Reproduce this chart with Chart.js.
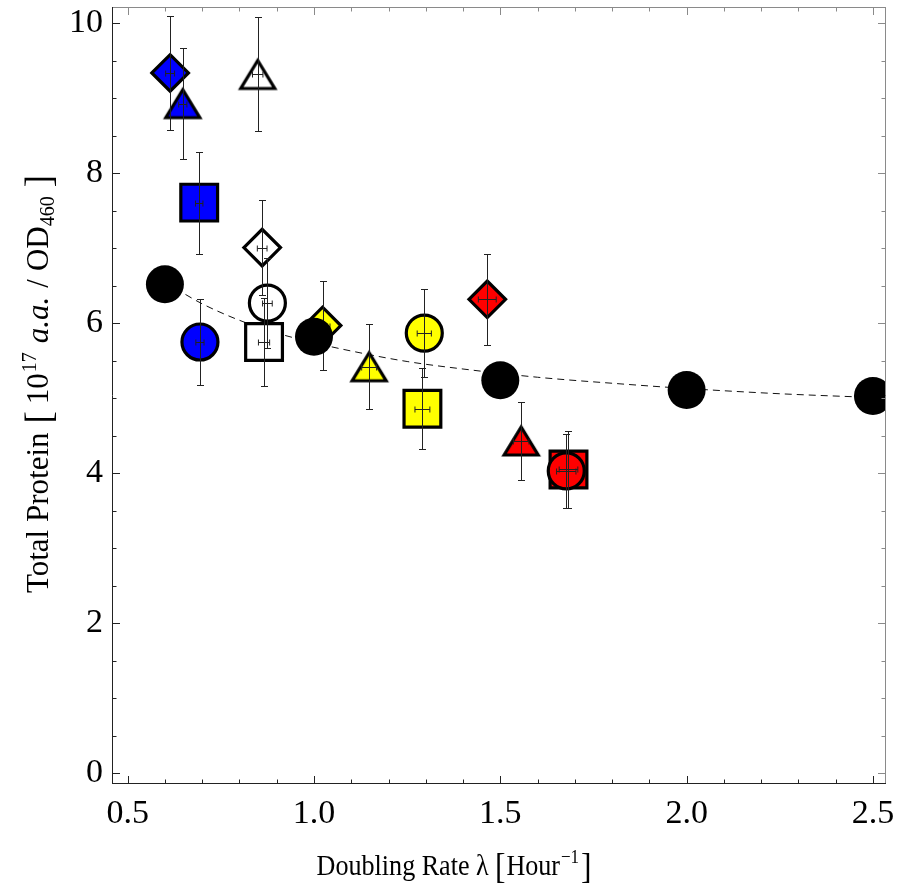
<!DOCTYPE html>
<html>
<head>
<meta charset="utf-8">
<script src="https://cdn.jsdelivr.net/npm/chart.js@4.4.1/dist/chart.umd.min.js"></script>
<style>
  html, body { margin: 0; padding: 0; background: #fff; }
  #wrap { width: 898px; height: 891px; }
</style>
</head>
<body>
<div id="wrap"><canvas id="proteinChart" width="898" height="891"></canvas></div>
<script>
// --- Data ---
// coloured markers (drawing order matters: later ones sit on top)
const markerShape = ["diamond", "triangle", "triangle", "square", "diamond", "circle", "circle", "square",
                     "diamond", "triangle", "circle", "square", "diamond", "triangle", "square", "circle"];
const markerColor = ["#0000ff", "#0000ff", "#ffffff", "#0000ff", "#ffffff", "#ffffff", "#0000ff", "#ffffff",
                     "#ffff00", "#ffff00", "#ffff00", "#ffff00", "#ff0000", "#ff0000", "#ff0000", "#ff0000"];
const markerX    = [0.614, 0.648, 0.849, 0.692, 0.861, 0.875, 0.694, 0.866,
                    1.023, 1.148, 1.296, 1.291, 1.465, 1.556, 1.683, 1.677];
const markerY    = [9.34, 8.93, 9.32, 7.61, 7.01, 6.27, 5.75, 5.75,
                    5.97, 5.42, 5.87, 4.86, 6.32, 4.43, 4.05, 4.03];
const markerXErr = [0.012, 0.011, 0.014, 0.010, 0.013, 0.013, 0.011, 0.015,
                    0.020, 0.020, 0.019, 0.020, 0.024, 0.021, 0.025, 0.026];
const markerYErr = [0.76, 0.74, 0.76, 0.68, 0.63, 0.60, 0.58, 0.59,
                    0.59, 0.57, 0.59, 0.54, 0.61, 0.52, 0.51, 0.49];

// black reference points
const refX = [0.6, 1.0, 1.5, 2.0, 2.5];
const refY = [6.52, 5.82, 5.24, 5.11, 5.03];

// dashed curve, points
const curveX = [0.6, 0.65, 0.7, 0.8, 0.9, 1.0, 1.1, 1.25, 1.4, 1.6, 1.8, 2.0, 2.25, 2.5];
const curveY = [6.55, 6.40, 6.26, 6.04, 5.87, 5.74, 5.63, 5.49, 5.39, 5.28, 5.20, 5.13, 5.06, 5.01];

// axes
const xTicks = [0.5, 1.0, 1.5, 2.0, 2.5];
const yTicks = [0, 2, 4, 6, 8, 10];
const xMinorStep = 0.1;
const yMinorStep = 0.5;

const SERIF = '"Liberation Serif", "Times New Roman", serif';

// --- Marker helpers ---
function triangleImage(fill) {
  const c = document.createElement("canvas");
  c.width = 42; c.height = 36;
  const g = c.getContext("2d");
  g.beginPath();
  g.moveTo(21, 4);
  g.lineTo(38, 32);
  g.lineTo(4, 32);
  g.closePath();
  g.fillStyle = fill;
  g.fill();
  g.lineWidth = 3.2;
  g.lineJoin = "miter";
  g.strokeStyle = "#000";
  g.stroke();
  return c;
}

const styleFor = { circle: "circle", square: "rect", diamond: "rectRot" };
const radiusFor = { circle: 18, square: 26, diamond: 18.3, triangle: 19 };

const markerStyles = markerShape.map((s, i) => s === "triangle" ? triangleImage(markerColor[i]) : styleFor[s]);
const markerRadii = markerShape.map(s => radiusFor[s]);

// --- Plugins: error bars, frame + inward ticks, rich axis titles ---
const errorBars = {
  id: "errorBars",
  afterDatasetDraw(chart, args) {
    if (args.index !== 1) return;
    const { ctx, scales: { x, y } } = chart;
    ctx.save();
    ctx.strokeStyle = "#222";
    ctx.lineWidth = 1;
    ctx.beginPath();
    markerX.forEach((mx, i) => {
      const px = Math.round(x.getPixelForValue(mx)) + 0.5;
      const py = Math.round(y.getPixelForValue(markerY[i])) + 0.5;
      const top = Math.round(y.getPixelForValue(markerY[i] + markerYErr[i])) + 0.5;
      const bot = Math.round(y.getPixelForValue(markerY[i] - markerYErr[i])) + 0.5;
      ctx.moveTo(px, top); ctx.lineTo(px, bot);
      ctx.moveTo(px - 3.5, top); ctx.lineTo(px + 3.5, top);
      ctx.moveTo(px - 3.5, bot); ctx.lineTo(px + 3.5, bot);
      const l = x.getPixelForValue(mx - markerXErr[i]);
      const r = x.getPixelForValue(mx + markerXErr[i]);
      ctx.moveTo(l, py); ctx.lineTo(r, py);
      ctx.moveTo(l, py - 3); ctx.lineTo(l, py + 3);
      ctx.moveTo(r, py - 3); ctx.lineTo(r, py + 3);
    });
    ctx.stroke();
    ctx.restore();
  }
};

function minorValues(min, max, step) {
  const out = [];
  for (let v = Math.ceil(min / step) * step; v <= max + 1e-9; v += step) out.push(+v.toFixed(4));
  return out;
}

const frameTicks = {
  id: "frameTicks",
  afterDatasetsDraw(chart) {
    const { ctx, chartArea: a, scales: { x, y } } = chart;
    const xs = minorValues(x.min, x.max, xMinorStep);
    const ys = minorValues(y.min, y.max, yMinorStep);
    const xLen = v => xTicks.some(t => Math.abs(t - v) < 1e-6) ? 8 : 4.5;
    const yLen = v => yTicks.some(t => Math.abs(t - v) < 1e-6) ? 8 : 4.5;
    ctx.save();
    ctx.lineWidth = 1;
    // top / right in grey
    ctx.strokeStyle = "#8a8a8a";
    ctx.beginPath();
    ctx.moveTo(a.left, a.top + 0.5); ctx.lineTo(a.right, a.top + 0.5);
    ctx.moveTo(a.right - 0.5, a.top); ctx.lineTo(a.right - 0.5, a.bottom);
    xs.forEach(v => {
      const p = Math.round(x.getPixelForValue(v)) + 0.5;
      ctx.moveTo(p, a.top); ctx.lineTo(p, a.top + xLen(v));
    });
    ys.forEach(v => {
      const p = Math.round(y.getPixelForValue(v)) + 0.5;
      ctx.moveTo(a.right, p); ctx.lineTo(a.right - yLen(v), p);
    });
    ctx.stroke();
    // left / bottom in dark
    ctx.strokeStyle = "#222";
    ctx.beginPath();
    ctx.moveTo(a.left + 0.5, a.top); ctx.lineTo(a.left + 0.5, a.bottom);
    ctx.moveTo(a.left, a.bottom - 0.5); ctx.lineTo(a.right, a.bottom - 0.5);
    xs.forEach(v => {
      const p = Math.round(x.getPixelForValue(v)) + 0.5;
      ctx.moveTo(p, a.bottom); ctx.lineTo(p, a.bottom - xLen(v));
    });
    ys.forEach(v => {
      const p = Math.round(y.getPixelForValue(v)) + 0.5;
      ctx.moveTo(a.left, p); ctx.lineTo(a.left + yLen(v), p);
    });
    ctx.stroke();
    ctx.restore();
  }
};

// axis titles with super/subscripts
const xTitleParts = [
  { text: "Doubling Rate \u03bb", size: 29 },
  { text: "[", size: 35, dy: 3, pre: 7, post: 1 },
  { text: "Hour", size: 29 },
  { text: "\u22121", size: 19, dy: -12, pre: 1, post: 2 },
  { text: "]", size: 35, dy: 3 }
];
const yTitleParts = [
  { text: "Total Protein", size: 31 },
  { text: "[", size: 37, dy: 3, pre: 9, post: 7 },
  { text: "10", size: 31 },
  { text: "17", size: 20, dy: -12, pre: 1, post: 9 },
  { text: "a.a.", size: 31, italic: true, post: 9 },
  { text: "/", size: 31, post: 8 },
  { text: "OD", size: 31 },
  { text: "460", size: 20, dy: 6, post: 9 },
  { text: "]", size: 37, dy: 3 }
];

function partFont(p) {
  return (p.italic ? "italic " : "") + p.size + "px " + SERIF;
}

function drawRich(ctx, parts, x, y, angle, squeeze) {
  ctx.save();
  ctx.translate(x, y);
  ctx.rotate(angle);
  ctx.scale(squeeze, 1);
  ctx.textBaseline = "alphabetic";
  ctx.textAlign = "left";
  ctx.fillStyle = "#000";
  let total = 0;
  const widths = parts.map(p => {
    ctx.font = partFont(p);
    const w = ctx.measureText(p.text).width;
    total += w + (p.pre || 0) + (p.post || 0);
    return w;
  });
  let cx = -total / 2;
  parts.forEach((p, i) => {
    ctx.font = partFont(p);
    cx += p.pre || 0;
    ctx.fillText(p.text, cx, p.dy || 0);
    cx += widths[i] + (p.post || 0);
  });
  ctx.restore();
}

const axisTitles = {
  id: "axisTitles",
  afterDraw(chart) {
    const { ctx } = chart;
    drawRich(ctx, xTitleParts, 454, 875, 0, 0.9);
    drawRich(ctx, yTitleParts, 48, 384, -Math.PI / 2, 1);
  }
};

function noPadding(s) {
  s.paddingLeft = 0; s.paddingRight = 0; s.paddingTop = 0; s.paddingBottom = 0;
}

// --- Chart ---
const ctx = document.getElementById("proteinChart").getContext("2d");

new Chart(ctx, {
  type: "scatter",
  data: {
    datasets: [
      {
        label: "fit",
        data: curveX.map((v, i) => ({ x: v, y: curveY[i] })),
        showLine: true,
        borderColor: "#111",
        borderWidth: 1,
        borderDash: [7, 5],
        pointRadius: 0,
        tension: 0.4,
        cubicInterpolationMode: "monotone",
        order: 3
      },
      {
        label: "samples",
        data: markerX.map((v, i) => ({ x: v, y: markerY[i] })),
        pointStyle: markerStyles,
        pointRadius: markerRadii,
        backgroundColor: markerColor,
        borderColor: "#000",
        borderWidth: 3.2,
        order: 2
      },
      {
        label: "reference",
        data: refX.map((v, i) => ({ x: v, y: refY[i] })),
        pointStyle: "circle",
        pointRadius: 19,
        backgroundColor: "#000",
        borderWidth: 0,
        clip: 0,
        order: 1
      }
    ]
  },
  options: {
    responsive: false,
    animation: false,
    layout: { autoPadding: false, padding: { top: 7, right: 12, left: 0, bottom: 0 } },
    plugins: { legend: { display: false }, tooltip: { enabled: false } },
    scales: {
      x: {
        type: "linear",
        min: 0.458,
        max: 2.535,
        grid: { display: false, drawTicks: false },
        border: { display: false },
        afterBuildTicks: s => { s.ticks = xTicks.map(v => ({ value: v })); },
        afterFit: s => { s.height = 107; noPadding(s); },
        ticks: {
          color: "#000",
          padding: 10,
          font: { family: SERIF, size: 34 },
          maxRotation: 0,
          callback: v => Number(v).toFixed(1)
        }
      },
      y: {
        type: "linear",
        min: -0.147,
        max: 10.22,
        grid: { display: false, drawTicks: false },
        border: { display: false },
        afterBuildTicks: s => { s.ticks = yTicks.map(v => ({ value: v })); },
        afterFit: s => { s.width = 112; noPadding(s); },
        ticks: {
          color: "#000",
          padding: 9,
          font: { family: SERIF, size: 34 },
          callback: v => String(v)
        }
      }
    }
  },
  plugins: [errorBars, frameTicks, axisTitles]
});
</script>
</body>
</html>
